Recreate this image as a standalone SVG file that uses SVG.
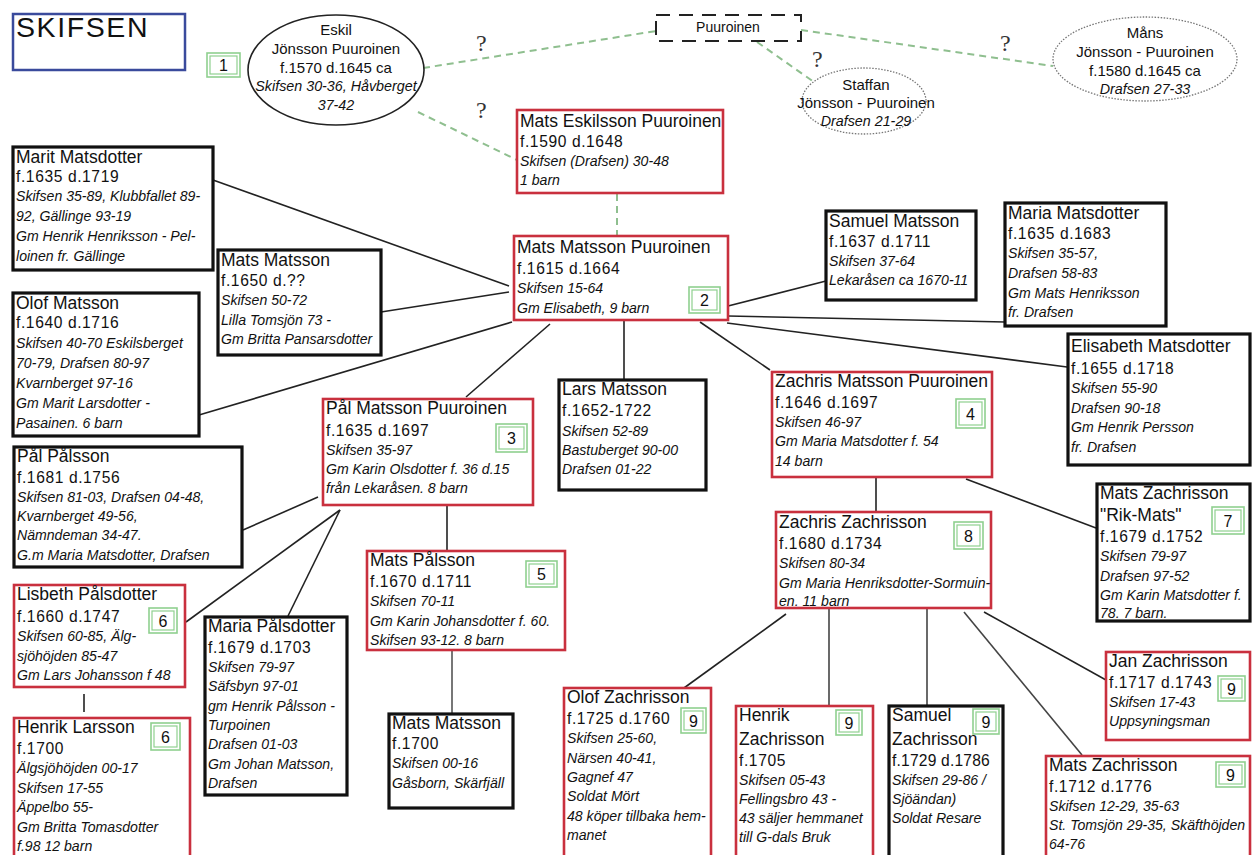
<svg xmlns="http://www.w3.org/2000/svg" width="1252" height="855" viewBox="0 0 1252 855">
<style>
text{font-family:"Liberation Sans",Arial,sans-serif;fill:#111}
.nm{font-size:17.5px}
.dt{font-size:15.6px;letter-spacing:.6px}
.it{font-size:14.1px;font-style:italic}
.ec{font-size:15px;text-anchor:middle}
.eci{font-size:14.3px;font-style:italic;text-anchor:middle}
.q{font-family:"Liberation Serif",serif;font-size:24px;fill:#333}
.rb{fill:#fff;stroke:#c9303e;stroke-width:2.6}
.bb{fill:#fff;stroke:#111;stroke-width:3.2}
.bo{fill:none;stroke:#8fd08f;stroke-width:1.6}
.bi{fill:none;stroke:#8fd08f;stroke-width:1.2}
.bn{font-size:16px;text-anchor:middle}
.ln{stroke:#222;stroke-width:1.6;fill:none}
.gd{stroke:#8fbf8f;stroke-width:2;stroke-dasharray:7 5;fill:none}
</style>
<rect width="1252" height="855" fill="#fff"/>

<g id="connectors">
  <line class="gd" x1="423" y1="68" x2="656" y2="31"/>
  <line class="gd" x1="801" y1="30" x2="1053" y2="66"/>
  <line class="gd" x1="757" y1="42" x2="814" y2="82"/>
  <line class="gd" x1="418" y1="112" x2="517" y2="160"/>
  <line class="gd" x1="617" y1="194" x2="617" y2="235"/>
  <line class="ln" x1="213" y1="180" x2="509" y2="286"/>
  <line class="ln" x1="381" y1="312" x2="509" y2="292"/>
  <line class="ln" x1="199" y1="415" x2="512" y2="322"/>
  <line class="ln" x1="550" y1="324" x2="466" y2="397"/>
  <line class="ln" x1="624" y1="320" x2="624" y2="380"/>
  <line class="ln" x1="700" y1="322" x2="770" y2="370"/>
  <line class="ln" x1="728" y1="306" x2="826" y2="281"/>
  <line class="ln" x1="728" y1="316" x2="1005" y2="322"/>
  <line class="ln" x1="727" y1="323" x2="1067" y2="367"/>
  <line class="ln" x1="243" y1="530" x2="318" y2="497"/>
  <line class="ln" x1="186" y1="622" x2="340" y2="510"/>
  <line class="ln" x1="288" y1="616" x2="340" y2="510"/>
  <line class="ln" x1="447" y1="505" x2="447" y2="551"/>
  <line class="ln" x1="452" y1="650" x2="452" y2="713" style="stroke:#555"/>
  <line class="ln" x1="84" y1="694" x2="84" y2="712"/>
  <line class="ln" x1="876" y1="477" x2="876" y2="512"/>
  <line class="ln" x1="966" y1="479" x2="1096" y2="528"/>
  <line class="ln" x1="786" y1="614" x2="684" y2="688"/>
  <line class="ln" x1="829" y1="608" x2="829" y2="705" style="stroke:#444"/>
  <line class="ln" x1="927" y1="608" x2="927" y2="705" style="stroke:#444"/>
  <line class="ln" x1="964" y1="612" x2="1082" y2="755" style="stroke:#444"/>
  <line class="ln" x1="984" y1="612" x2="1106" y2="680"/>
</g>

<g id="title">
  <rect x="13" y="14" width="172" height="56" fill="#fff" stroke="#3a4a9c" stroke-width="2.5"/>
  <text x="16" y="37" style="font-size:28.5px;letter-spacing:1.6px">SKIFSEN</text>
</g>

<g id="questions">
  <text class="q" x="476" y="51">?</text>
  <text class="q" x="476" y="118">?</text>
  <text class="q" x="812" y="67">?</text>
  <text class="q" x="1000" y="51">?</text>
</g>

<g id="badge1">
  <rect class="bo" x="207" y="53" width="33" height="24"/>
  <rect class="bi" x="210" y="56" width="27" height="18"/>
  <text class="bn" x="223.5" y="71">1</text>
</g>

<g id="eskil">
  <ellipse cx="336" cy="70" rx="88" ry="55" fill="#fff" stroke="#222" stroke-width="1.6"/>
  <text class="ec" x="336" y="35">Eskil</text>
  <text class="ec" x="336" y="54">Jönsson Puuroinen</text>
  <text class="ec" x="336" y="73">f.1570 d.1645 ca</text>
  <text class="eci" x="336" y="91">Skifsen 30-36, Håvberget</text>
  <text class="eci" x="336" y="110">37-42</text>
</g>

<g id="puuroinen">
  <rect x="656" y="15" width="145" height="26" fill="#fff" stroke="#222" stroke-width="2" stroke-dasharray="14 9"/>
  <text x="728" y="32" style="font-size:14px;text-anchor:middle">Puuroinen</text>
</g>

<g id="staffan">
  <ellipse cx="864" cy="101" rx="62" ry="33" fill="#fff" stroke="#777" stroke-width="1.3" stroke-dasharray="1.5 1.5"/>
  <text class="ec" x="866" y="90">Staffan</text>
  <text class="ec" x="866" y="108">Jönsson - Puuroinen</text>
  <text class="eci" x="866" y="126">Drafsen 21-29</text>
</g>

<g id="mans">
  <ellipse cx="1145" cy="59" rx="92" ry="42" fill="#fff" stroke="#777" stroke-width="1.3" stroke-dasharray="1.5 1.5"/>
  <text class="ec" x="1145" y="38">Måns</text>
  <text class="ec" x="1145" y="57">Jönsson - Puuroinen</text>
  <text class="ec" x="1145" y="76">f.1580 d.1645 ca</text>
  <text class="eci" x="1145" y="94">Drafsen 27-33</text>
</g>

<g id="mats-eskilsson">
  <rect class="rb" x="517" y="110" width="206" height="83"/>
  <text class="nm" x="520" y="127">Mats Eskilsson Puuroinen</text>
  <text class="dt" x="520" y="147">f.1590 d.1648</text>
  <text class="it" x="520" y="166">Skifsen (Drafsen)  30-48</text>
  <text class="it" x="520" y="185">1 barn</text>
</g>

<g id="mats-matsson-puuroinen">
  <rect class="rb" x="514" y="236" width="214" height="84"/>
  <text class="nm" x="517" y="253">Mats Matsson Puuroinen</text>
  <text class="dt" x="517" y="274">f.1615 d.1664</text>
  <text class="it" x="517" y="293">Skifsen 15-64</text>
  <text class="it" x="517" y="313">Gm Elisabeth, 9 barn</text>
  <rect class="bo" x="689" y="287" width="31" height="26"/>
  <rect class="bi" x="692" y="290" width="25" height="20"/>
  <text class="bn" x="704.5" y="306">2</text>
</g>

<g id="marit">
  <rect class="bb" x="13" y="147" width="200" height="123"/>
  <text class="nm" x="16" y="163">Marit Matsdotter</text>
  <text class="dt" x="16" y="182">f.1635 d.1719</text>
  <text class="it" x="16" y="201">Skifsen 35-89, Klubbfallet 89-</text>
  <text class="it" x="16" y="221">92, Gällinge 93-19</text>
  <text class="it" x="16" y="241">Gm Henrik Henriksson - Pel-</text>
  <text class="it" x="16" y="261">loinen fr. Gällinge</text>
</g>

<g id="mats-matsson-1650">
  <rect class="bb" x="218" y="250" width="163" height="105"/>
  <text class="nm" x="221" y="266">Mats Matsson</text>
  <text class="dt" x="221" y="286">f.1650 d.??</text>
  <text class="it" x="221" y="305">Skifsen 50-72</text>
  <text class="it" x="221" y="325">Lilla Tomsjön 73 -</text>
  <text class="it" x="221" y="344">Gm Britta Pansarsdotter</text>
</g>

<g id="olof-matsson">
  <rect class="bb" x="13" y="293" width="186" height="143"/>
  <text class="nm" x="16" y="309">Olof Matsson</text>
  <text class="dt" x="16" y="328">f.1640 d.1716</text>
  <text class="it" x="16" y="348">Skifsen 40-70 Eskilsberget</text>
  <text class="it" x="16" y="368">70-79, Drafsen 80-97</text>
  <text class="it" x="16" y="388">Kvarnberget 97-16</text>
  <text class="it" x="16" y="408">Gm Marit Larsdotter -</text>
  <text class="it" x="16" y="428">Pasainen. 6 barn</text>
</g>

<g id="samuel-matsson">
  <rect class="bb" x="826" y="211" width="150" height="89"/>
  <text class="nm" x="829" y="227">Samuel Matsson</text>
  <text class="dt" x="829" y="247">f.1637 d.1711</text>
  <text class="it" x="829" y="266">Skifsen 37-64</text>
  <text class="it" x="829" y="285">Lekaråsen ca 1670-11</text>
</g>

<g id="maria-matsdotter">
  <rect class="bb" x="1005" y="203" width="161" height="123"/>
  <text class="nm" x="1008" y="219">Maria Matsdotter</text>
  <text class="dt" x="1008" y="239">f.1635 d.1683</text>
  <text class="it" x="1008" y="258">Skifsen 35-57,</text>
  <text class="it" x="1008" y="278">Drafsen 58-83</text>
  <text class="it" x="1008" y="298">Gm Mats Henriksson</text>
  <text class="it" x="1008" y="317">fr. Drafsen</text>
</g>

<g id="elisabeth">
  <rect class="bb" x="1068" y="334" width="182" height="131"/>
  <text class="nm" x="1071" y="352">Elisabeth Matsdotter</text>
  <text class="dt" x="1071" y="374">f.1655 d.1718</text>
  <text class="it" x="1071" y="393">Skifsen 55-90</text>
  <text class="it" x="1071" y="413">Drafsen 90-18</text>
  <text class="it" x="1071" y="432">Gm  Henrik Persson</text>
  <text class="it" x="1071" y="452">fr. Drafsen</text>
</g>

<g id="lars-matsson">
  <rect class="bb" x="559" y="380" width="147" height="110"/>
  <text class="nm" x="562" y="395">Lars Matsson</text>
  <text class="dt" x="562" y="416">f.1652-1722</text>
  <text class="it" x="562" y="436">Skifsen 52-89</text>
  <text class="it" x="562" y="455">Bastuberget 90-00</text>
  <text class="it" x="562" y="474">Drafsen 01-22</text>
</g>

<g id="pal-matsson-puuroinen">
  <rect class="rb" x="323" y="399" width="210" height="106"/>
  <text class="nm" x="326" y="414">Pål Matsson Puuroinen</text>
  <text class="dt" x="326" y="436">f.1635 d.1697</text>
  <text class="it" x="326" y="455">Skifsen 35-97</text>
  <text class="it" x="326" y="474">Gm Karin Olsdotter  f. 36 d.15</text>
  <text class="it" x="326" y="493">från Lekaråsen.  8 barn</text>
  <rect class="bo" x="496" y="424" width="31" height="28"/>
  <rect class="bi" x="499" y="427" width="25" height="22"/>
  <text class="bn" x="511.5" y="444">3</text>
</g>

<g id="zachris-matsson-puuroinen">
  <rect class="rb" x="772" y="372" width="220" height="105"/>
  <text class="nm" x="775" y="387">Zachris Matsson Puuroinen</text>
  <text class="dt" x="775" y="408">f.1646 d.1697</text>
  <text class="it" x="775" y="427">Skifsen 46-97</text>
  <text class="it" x="775" y="446">Gm Maria Matsdotter f. 54</text>
  <text class="it" x="775" y="466">14 barn</text>
  <rect class="bo" x="956" y="399" width="29" height="29"/>
  <rect class="bi" x="959" y="402" width="23" height="23"/>
  <text class="bn" x="970.5" y="420">4</text>
</g>

<g id="pal-palsson">
  <rect class="bb" x="14" y="447" width="228" height="120"/>
  <text class="nm" x="17" y="462">Pål Pålsson</text>
  <text class="dt" x="17" y="483">f.1681 d.1756</text>
  <text class="it" x="17" y="502">Skifsen  81-03, Drafsen  04-48,</text>
  <text class="it" x="17" y="521">Kvarnberget 49-56,</text>
  <text class="it" x="17" y="540">Nämndeman 34-47.</text>
  <text class="it" x="17" y="560">G.m Maria Matsdotter, Drafsen</text>
</g>

<g id="zachris-zachrisson">
  <rect class="rb" x="776" y="512" width="215" height="96"/>
  <text class="nm" x="779" y="528">Zachris Zachrisson</text>
  <text class="dt" x="779" y="549">f.1680 d.1734</text>
  <text class="it" x="779" y="568">Skifsen 80-34</text>
  <text class="it" x="779" y="588">Gm Maria Henriksdotter-Sormuin-</text>
  <text class="it" x="779" y="606">en. 11 barn</text>
  <rect class="bo" x="954" y="522" width="29" height="27"/>
  <rect class="bi" x="957" y="525" width="23" height="21"/>
  <text class="bn" x="968.5" y="542">8</text>
</g>

<g id="rik-mats">
  <rect class="bb" x="1097" y="484" width="153" height="137"/>
  <text class="nm" x="1100" y="499">Mats Zachrisson</text>
  <text class="nm" x="1100" y="521">"Rik-Mats"</text>
  <text class="dt" x="1100" y="542">f.1679 d.1752</text>
  <text class="it" x="1100" y="561">Skifsen 79-97</text>
  <text class="it" x="1100" y="581">Drafsen 97-52</text>
  <text class="it" x="1100" y="600">Gm Karin Matsdotter f.</text>
  <text class="it" x="1100" y="618">78. 7 barn.</text>
  <rect class="bo" x="1212" y="507" width="32" height="27"/>
  <rect class="bi" x="1215" y="510" width="26" height="21"/>
  <text class="bn" x="1228" y="527">7</text>
</g>

<g id="mats-palsson">
  <rect class="rb" x="367" y="551" width="198" height="99"/>
  <text class="nm" x="370" y="566">Mats Pålsson</text>
  <text class="dt" x="370" y="587">f.1670 d.1711</text>
  <text class="it" x="370" y="606">Skifsen  70-11</text>
  <text class="it" x="370" y="626">Gm Karin Johansdotter  f. 60.</text>
  <text class="it" x="370" y="645">Skifsen 93-12. 8 barn</text>
  <rect class="bo" x="526" y="561" width="31" height="26"/>
  <rect class="bi" x="529" y="564" width="25" height="20"/>
  <text class="bn" x="541.5" y="580">5</text>
</g>

<g id="lisbeth">
  <rect class="rb" x="14" y="585" width="171" height="102"/>
  <text class="nm" x="17" y="600">Lisbeth Pålsdotter</text>
  <text class="dt" x="17" y="622">f.1660 d.1747</text>
  <text class="it" x="17" y="641">Skifsen  60-85, Älg-</text>
  <text class="it" x="17" y="661">sjöhöjden 85-47</text>
  <text class="it" x="17" y="680">Gm  Lars Johansson  f 48</text>
  <rect class="bo" x="149" y="608" width="28" height="25"/>
  <rect class="bi" x="152" y="611" width="22" height="19"/>
  <text class="bn" x="163" y="627">6</text>
</g>

<g id="maria-palsdotter">
  <rect class="bb" x="205" y="617" width="142" height="178"/>
  <text class="nm" x="208" y="632">Maria Pålsdotter</text>
  <text class="dt" x="208" y="653">f.1679 d.1703</text>
  <text class="it" x="208" y="672">Skifsen 79-97</text>
  <text class="it" x="208" y="691">Säfsbyn 97-01</text>
  <text class="it" x="208" y="711">gm Henrik Pålsson  -</text>
  <text class="it" x="208" y="730">Turpoinen</text>
  <text class="it" x="208" y="749">Drafsen 01-03</text>
  <text class="it" x="208" y="769">Gm Johan Matsson,</text>
  <text class="it" x="208" y="788">Drafsen</text>
</g>

<g id="henrik-larsson">
  <rect class="rb" x="14" y="718" width="176" height="145"/>
  <text class="nm" x="17" y="733">Henrik Larsson</text>
  <text class="dt" x="17" y="754">f.1700</text>
  <text class="it" x="17" y="773">Älgsjöhöjden 00-17</text>
  <text class="it" x="17" y="793">Skifsen 17-55</text>
  <text class="it" x="17" y="812">Äppelbo 55-</text>
  <text class="it" x="17" y="832">Gm  Britta Tomasdotter</text>
  <text class="it" x="17" y="851">f.98  12 barn</text>
  <rect class="bo" x="151" y="723" width="29" height="27"/>
  <rect class="bi" x="154" y="726" width="23" height="21"/>
  <text class="bn" x="165.5" y="743">6</text>
</g>

<g id="mats-matsson-1700">
  <rect class="bb" x="389" y="714" width="124" height="94"/>
  <text class="nm" x="392" y="729">Mats Matsson</text>
  <text class="dt" x="392" y="749">f.1700</text>
  <text class="it" x="392" y="768">Skifsen  00-16</text>
  <text class="it" x="392" y="788">Gåsborn, Skärfjäll</text>
</g>

<g id="olof-zachrisson">
  <rect class="rb" x="564" y="688" width="147" height="175"/>
  <text class="nm" x="567" y="703">Olof Zachrisson</text>
  <text class="dt" x="567" y="724">f.1725 d.1760</text>
  <text class="it" x="567" y="743">Skifsen 25-60,</text>
  <text class="it" x="567" y="763">Närsen 40-41,</text>
  <text class="it" x="567" y="782">Gagnef 47</text>
  <text class="it" x="567" y="801">Soldat Mört</text>
  <text class="it" x="567" y="821">48 köper tillbaka hem-</text>
  <text class="it" x="567" y="840">manet</text>
  <rect class="bo" x="681" y="708" width="25" height="25"/>
  <rect class="bi" x="684" y="711" width="19" height="19"/>
  <text class="bn" x="693.5" y="727">9</text>
</g>

<g id="henrik-zachrisson">
  <rect class="rb" x="736" y="706" width="137" height="157"/>
  <text class="nm" x="739" y="721">Henrik</text>
  <text class="nm" x="739" y="745">Zachrisson</text>
  <text class="dt" x="739" y="766">f.1705</text>
  <text class="it" x="739" y="785">Skifsen 05-43</text>
  <text class="it" x="739" y="804">Fellingsbro 43 -</text>
  <text class="it" x="739" y="823">43 säljer hemmanet</text>
  <text class="it" x="739" y="842">till G-dals Bruk</text>
  <rect class="bo" x="836" y="710" width="26" height="25"/>
  <rect class="bi" x="839" y="713" width="20" height="19"/>
  <text class="bn" x="849" y="729">9</text>
</g>

<g id="samuel-zachrisson">
  <rect class="bb" x="889" y="706" width="114" height="157"/>
  <text class="nm" x="892" y="721">Samuel</text>
  <text class="nm" x="892" y="745">Zachrisson</text>
  <text class="dt" x="892" y="766" style="letter-spacing:.2px">f.1729 d.1786</text>
  <text class="it" x="892" y="785">Skifsen 29-86 /</text>
  <text class="it" x="892" y="804">Sjöändan)</text>
  <text class="it" x="892" y="823">Soldat Resare</text>
  <rect class="bo" x="973" y="709" width="26" height="25"/>
  <rect class="bi" x="976" y="712" width="20" height="19"/>
  <text class="bn" x="986" y="728">9</text>
</g>

<g id="jan-zachrisson">
  <rect class="rb" x="1106" y="652" width="144" height="88"/>
  <text class="nm" x="1109" y="667">Jan Zachrisson</text>
  <text class="dt" x="1109" y="688">f.1717 d.1743</text>
  <text class="it" x="1109" y="707">Skifsen 17-43</text>
  <text class="it" x="1109" y="726">Uppsyningsman</text>
  <rect class="bo" x="1218" y="676" width="27" height="25"/>
  <rect class="bi" x="1221" y="679" width="21" height="19"/>
  <text class="bn" x="1231.5" y="695">9</text>
</g>

<g id="mats-zachrisson-1712">
  <rect class="rb" x="1046" y="756" width="204" height="107"/>
  <text class="nm" x="1049" y="771">Mats Zachrisson</text>
  <text class="dt" x="1049" y="792">f.1712 d.1776</text>
  <text class="it" x="1049" y="811">Skifsen 12-29, 35-63</text>
  <text class="it" x="1049" y="830">St. Tomsjön 29-35, Skäfthöjden</text>
  <text class="it" x="1049" y="849">64-76</text>
  <rect class="bo" x="1216" y="762" width="29" height="25"/>
  <rect class="bi" x="1219" y="765" width="23" height="19"/>
  <text class="bn" x="1230.5" y="781">9</text>
</g>
</svg>
